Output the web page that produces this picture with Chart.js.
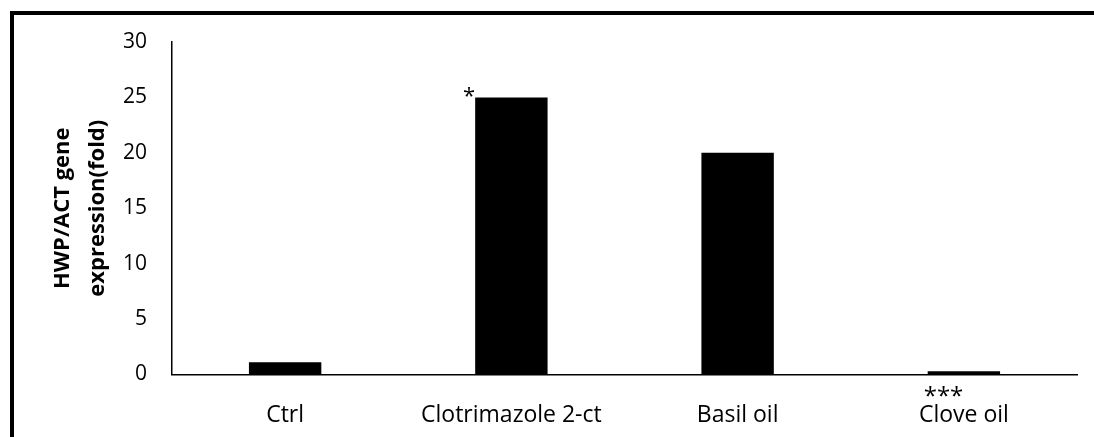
<!DOCTYPE html>
<html>
<head>
<meta charset="utf-8">
<script src="https://cdn.jsdelivr.net/npm/chart.js@4.4.1/dist/chart.umd.min.js"></script>
<style>
	html, body { margin: 0; padding: 0; background: #fff; overflow: hidden; }
	#wrap { position: relative; width: 1094px; height: 437px; }
	#frame { position: absolute; left: 10px; top: 11px; width: 2000px; height: 2000px; border-left: 4px solid #000; border-top: 4px solid #000; }
	canvas { position: absolute; left: 0; top: 0; }
</style>
</head>
<body>
<div id="wrap">
	<div id="frame"></div>
	<canvas id="chart" width="1094" height="437"></canvas>
</div>
<script>
// data
const categories = ['Ctrl', 'Clotrimazole 2-ct', 'Basil oil', 'Clove oil'];
const foldValues = [1.1, 25, 20, 0.3];
const yTicks = [0, 5, 10, 15, 20, 25, 30];
const stars = ['', '*', '', '***'];

const FONT = "'Open Sans', sans-serif";

// draws significance stars from bar positions
const starsPlugin = {
	id: 'stars',
	afterDatasetsDraw(chart) {
		const ctx = chart.ctx;
		const meta = chart.getDatasetMeta(0);
		const base = chart.scales.y.getPixelForValue(0);
		ctx.save();
		ctx.fillStyle = '#000';
		meta.data.forEach((bar, i) => {
			const s = stars[i];
			if (!s) return;
			const left = bar.x - bar.width / 2;
			if (foldValues[i] > 5) {
				// star above the left corner
				ctx.font = '22px ' + FONT;
				ctx.textAlign = 'right';
				ctx.textBaseline = 'alphabetic';
				ctx.fillText(s, left, bar.y + 6);
			} else {
				// stars under a tiny bar
				ctx.font = '24px ' + FONT;
				ctx.textAlign = 'left';
				ctx.textBaseline = 'top';
				ctx.fillText(s, left - 4, base + 11);
			}
		});
		ctx.restore();
	},
};

new Chart(document.getElementById('chart'), {
	type: 'bar',
	data: {
		labels: categories,
		datasets: [{ data: foldValues, backgroundColor: '#000', borderWidth: 0, barPercentage: 0.32, categoryPercentage: 1 }],
	},
	options: {
		responsive: false,
		animation: false,
		devicePixelRatio: 1,
		layout: { padding: { top: 42, right: 17, bottom: 0, left: 0 } },
		plugins: { legend: { display: false }, tooltip: { enabled: false } },
		scales: {
			x: {
				grid: { display: false, drawTicks: false },
				border: { color: '#000', width: 1.5 },
				ticks: { color: '#000', padding: 27, font: { family: FONT, size: 23 } },
				afterFit: (s) => { s.height = 62.5; },
			},
			y: {
				min: 0,
				max: 30,
				afterBuildTicks: (s) => { s.ticks = yTicks.map((v) => ({ value: v })); },
				grid: { display: false, drawTicks: false },
				border: { color: '#000', width: 1.5 },
				ticks: { color: '#000', padding: 25, font: { family: FONT, size: 21 } },
				title: {
					display: true,
					text: ['HWP/ACT gene', 'expression(fold)'],
					color: '#000',
					font: { family: FONT, size: 22, weight: 'bold', lineHeight: 1.6 },
					padding: { top: 45, bottom: 0 },
				},
				afterFit: (s) => { s.width = 172; },
			},
		},
	},
	plugins: [starsPlugin],
});
</script>
</body>
</html>
